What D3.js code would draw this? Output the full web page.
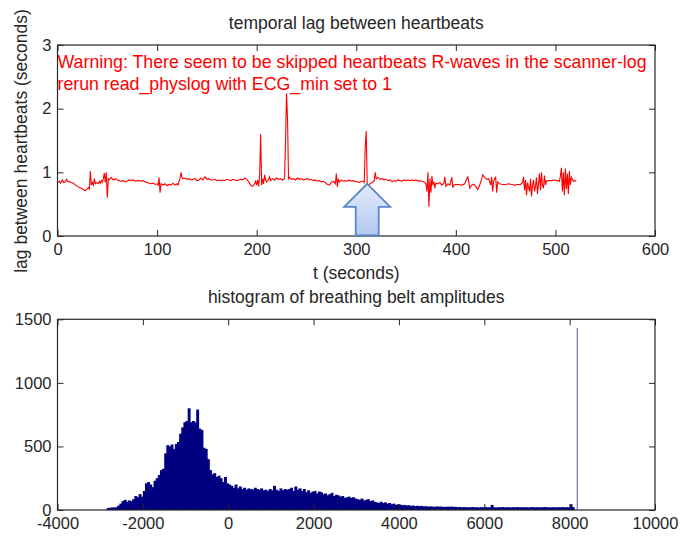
<!DOCTYPE html>
<html>
<head>
<meta charset="utf-8">
<script src="https://cdn.jsdelivr.net/npm/d3@7/dist/d3.min.js"></script>
<style>
  body { margin: 0; background: #fff; }
  svg { font-family: "Liberation Sans", Arial, sans-serif; }
  .tick text { fill: #262626; }
</style>
</head>
<body>
<div id="chart"></div>
<script>
// heartbeat lag trace (seconds vs seconds)
var beatTime = [0,2,3,5,6,8,9,10,12,14,16,18,20,22,24,26,28,29,31,32,33,34,35,36,37,38,39,41,42,43,44,45,46,47,48,49,50,51,52,54,56,58,60,62,64,66,68,70,72,74,76,78,80,82,84,86,88,90,92,94,96,98,100,101,102,103,104,106,108,110,112,114,116,118,120,121,122,123,124,125,126,128,130,132,134,136,138,140,142,144,146,148,150,152,154,156,158,160,162,164,166,168,170,172,174,176,178,180,182,184,186,188,190,192,194,196,198,199,200,201,202,203,204,205,206,207,208,209,210,212,213,214,216,218,220,222,224,226,228,229,230,231,232,233,235,237,239,241,243,245,247,249,251,253,255,257,259,261,263,265,267,269,271,273,275,277,279,280,281,282,283,285,287,289,291,293,295,297,299,301,303,305,307,308,309,310,311,312,314,316,318,319,320,322,324,326,328,330,332,334,336,338,340,342,344,346,348,350,352,354,356,358,360,362,364,366,368,370,371,372,373,374,375,376,377,378,379,380,382,384,386,388,389,390,392,394,395,396,397,398,400,403,406,409,411,412,413,414,416,418,420,422,424,426,427,429,431,433,435,436,437,438,440,441,442,444,447,450,453,456,459,462,465,467,468,469,470,471,472,474,475,476,477,478,479,480,481,482,483,484,485,486,487,488,489,490,491,493,496,499,502,504,505,506,507,508,509,510,511,512,513,514,515,516,518,520,521];
var beatLag = [0.84,0.86,0.83,0.88,0.84,0.85,0.89,0.86,0.85,0.84,0.83,0.80,0.78,0.76,0.75,0.73,0.71,0.73,0.76,0.74,1.02,0.80,0.84,0.80,0.90,0.82,0.84,0.82,0.86,0.83,0.87,0.84,0.90,0.99,0.84,1.00,0.60,0.90,0.88,0.92,0.88,0.90,0.88,0.87,0.86,0.87,0.85,0.86,0.88,0.87,0.88,0.86,0.87,0.87,0.86,0.87,0.85,0.84,0.83,0.82,0.83,0.81,0.82,0.80,0.92,0.68,0.82,0.80,0.82,0.79,0.81,0.80,0.83,0.80,0.82,0.80,0.86,0.90,1.00,0.92,0.90,0.91,0.89,0.90,0.88,0.89,0.90,0.87,0.88,0.91,0.88,0.93,0.89,0.90,0.88,0.88,0.89,0.87,0.88,0.87,0.88,0.87,0.89,0.88,0.87,0.89,0.88,0.87,0.88,0.89,0.88,0.91,0.89,0.85,0.80,0.78,0.82,0.86,0.80,0.88,0.78,0.95,1.60,0.80,0.90,0.82,0.96,0.88,0.85,0.89,0.93,0.87,0.90,0.88,0.91,0.89,0.90,0.88,0.90,1.50,2.24,1.84,0.90,0.92,0.89,0.90,0.88,0.91,0.89,0.90,0.88,0.89,0.90,0.88,0.89,0.87,0.88,0.86,0.87,0.85,0.86,0.84,0.81,0.80,0.84,0.86,0.82,0.98,0.77,0.90,0.85,0.88,0.86,0.87,0.86,0.88,0.86,0.87,0.86,0.85,0.84,0.86,0.86,0.84,1.40,1.65,0.82,0.80,0.82,0.84,0.86,1.00,0.90,0.92,0.89,0.90,0.88,0.89,0.87,0.88,0.85,0.87,0.86,0.88,0.87,0.86,0.88,0.87,0.88,0.87,0.88,0.87,0.88,0.86,0.87,0.86,0.85,0.82,0.70,1.00,0.46,0.90,0.68,0.94,0.80,0.85,0.75,0.83,0.82,0.84,0.80,0.83,0.93,0.78,0.82,0.80,0.86,0.92,0.76,0.80,0.81,0.81,0.80,0.82,0.90,0.93,0.85,0.75,0.80,0.81,0.78,0.73,0.80,0.90,0.96,0.92,0.89,0.90,0.80,0.93,0.70,0.86,0.93,0.68,0.85,0.82,0.81,0.81,0.82,0.81,0.80,0.81,0.81,0.84,0.93,0.72,0.88,0.64,0.84,0.70,0.90,0.62,0.80,0.88,0.70,0.78,0.92,0.66,0.82,0.98,0.72,1.00,0.80,0.75,0.95,0.80,0.86,0.87,0.87,0.88,0.87,0.86,0.94,1.07,0.70,1.00,0.64,1.06,0.74,0.98,0.66,1.02,0.80,0.92,0.86,0.87,0.87];

// histogram of breathing belt amplitudes: counts per 50-unit bin starting at -2850
var binStart = -2850;
var binWidth = 50;
var binCounts = [
  15,18,20,20,22, 35,50,70, 80,65,75,70,85, 110,100,125,105, 150,210,220,
  200,180,230,250, 275,314,325, 445,510, 500,515,480,520, 535,600,650,
  690,700,800, 690,700,690,790, 640,630,490,480,400, 314,280,
  290,260,270,250, 220,260, 210,200,190,175, 200,170,185,165,175,160,
  170,165,160,175,165,160,170,155,
  160,150,165,155,190,160,150,170,155,165,160,
  165,175,150,185,160,170,150,165,
  140,155,135,145,150,130,145,140,
  125,130,115,125,135,110,120,115,
  105,110,95,100,105,95,100,90,
  85,80,90,75,80,85,70,75,
  65,60,55,65,55,60,50,55,
  45,50,40,45,42,38,40,
  35,38,32,35,30,33,30,32,
  28,30,26,28,27,25,28,26,27,25,24,26,25,27,24,25,
  22,24,21,23,22,20,22,23,21,22,20,22,21,23,20,22,40,21,20,22,21,23,20,22,21,20,22,21,23,20,22,21,
  22,20,21,23,20,22,21,20,22,23,21,20,22,21,20,22,21,23,20,22,21,45,22
];
var spikeValue = 8165;
var spikeCount = 1430;

var lagTicks = [0, 1, 2, 3];
var timeTicks = [0, 100, 200, 300, 400, 500, 600];
var countTicks = [0, 500, 1000, 1500];
var ampTicks = [-4000, -2000, 0, 2000, 4000, 6000, 8000, 10000];

var warningLines = ["Warning: There seem to be skipped heartbeats R-waves in the scanner-log",
                    "rerun read_physlog with ECG_min set to 1"];

var w = 695, h = 536;
var left = 57.5, right = 655;
var axisColor = "#262626";
var plain = function(d) { return String(d); };

var svg = d3.select("#chart").append("svg")
    .attr("width", w)
    .attr("height", h);

// gradient for the arrow
var grad = svg.append("defs").append("linearGradient")
    .attr("id", "arrowFill")
    .attr("x1", 0).attr("y1", 0).attr("x2", 0).attr("y2", 1);
grad.append("stop").attr("offset", "0%").attr("stop-color", "#e3ecfd");
grad.append("stop").attr("offset", "100%").attr("stop-color", "#b3c8f0");

// draws a matlab style box with ticks pointing inwards
function drawBox(g, x, y, xt, yt, top, bottom) {
  g.append("g")
    .attr("transform", "translate(0," + bottom + ")")
    .call(d3.axisBottom(x).tickValues(xt).tickSize(-6).tickSizeOuter(0).tickPadding(7).tickFormat(plain))
    .call(function(a) { a.select(".domain").remove(); });
  g.append("g")
    .attr("transform", "translate(0," + top + ")")
    .call(d3.axisTop(x).tickValues(xt).tickSize(-6).tickSizeOuter(0).tickFormat(""))
    .call(function(a) { a.select(".domain").remove(); });
  g.append("g")
    .attr("transform", "translate(" + left + ",0)")
    .call(d3.axisLeft(y).tickValues(yt).tickSize(-6).tickSizeOuter(0).tickPadding(6).tickFormat(plain))
    .call(function(a) { a.select(".domain").remove(); });
  g.append("g")
    .attr("transform", "translate(" + right + ",0)")
    .call(d3.axisRight(y).tickValues(yt).tickSize(-6).tickSizeOuter(0).tickFormat(""))
    .call(function(a) { a.select(".domain").remove(); });
  g.selectAll(".tick line").attr("stroke", axisColor);
  g.selectAll(".tick text").style("font-size", "16.5px");
  g.append("rect")
    .attr("x", left).attr("y", top)
    .attr("width", right - left).attr("height", bottom - top)
    .attr("fill", "none")
    .attr("stroke", axisColor)
    .attr("stroke-width", 1.2);
}

// ---------- top plot ----------
var topY0 = 45, topY1 = 236;
var x1 = d3.scaleLinear().domain([0, 600]).range([left, right]);
var y1 = d3.scaleLinear().domain([0, 3]).range([topY1, topY0]);

var g1 = svg.append("g");

var beats = beatTime.map(function(t, i) { return [t, beatLag[i]]; });
var lagLine = d3.line()
    .x(function(d) { return x1(d[0]); })
    .y(function(d) { return y1(d[1]); });

g1.append("path")
    .datum(beats)
    .attr("fill", "none")
    .attr("stroke", "#ff0000")
    .attr("stroke-width", 1.1)
    .attr("d", lagLine);

drawBox(g1, x1, y1, timeTicks, lagTicks, topY0, topY1);

g1.append("text")
    .attr("x", (left + right) / 2).attr("y", 29)
    .attr("text-anchor", "middle")
    .attr("fill", "#262626")
    .style("font-size", "17.5px")
    .text("temporal lag between heartbeats");

g1.append("text")
    .attr("x", (left + right) / 2).attr("y", 279)
    .attr("text-anchor", "middle")
    .attr("fill", "#262626")
    .style("font-size", "17.5px")
    .text("t (seconds)");

g1.append("text")
    .attr("transform", "translate(27,141) rotate(-90)")
    .attr("text-anchor", "middle")
    .attr("fill", "#262626")
    .style("font-size", "17.5px")
    .text("lag between heartbeats (seconds)");

g1.selectAll(".warn")
    .data(warningLines)
    .enter().append("text")
    .attr("class", "warn")
    .attr("x", left)
    .attr("y", function(d, i) { return 68 + i * 22; })
    .attr("fill", "#ff0000")
    .style("font-size", "17.75px")
    .text(function(d) { return d; });

// block arrow pointing at the skipped beat near t = 311 s
var ax = x1(311), ay = y1(0.82);
var arrow = d3.path();
arrow.moveTo(ax, ay);
arrow.lineTo(ax + 23, ay + 23);
arrow.lineTo(ax + 11.5, ay + 23);
arrow.lineTo(ax + 11.5, topY1 - 0.5);
arrow.lineTo(ax - 11.5, topY1 - 0.5);
arrow.lineTo(ax - 11.5, ay + 23);
arrow.lineTo(ax - 23, ay + 23);
arrow.closePath();
g1.append("path")
    .attr("d", arrow.toString())
    .attr("fill", "url(#arrowFill)")
    .attr("stroke", "#5a86c4")
    .attr("stroke-width", 1.8)
    .attr("stroke-linejoin", "miter");

// ---------- bottom plot ----------
var botY0 = 319.3, botY1 = 510;
var x2 = d3.scaleLinear().domain([-4000, 10000]).range([left, right]);
var y2 = d3.scaleLinear().domain([0, 1500]).range([botY1, botY0]);

var g2 = svg.append("g");
var barW = x2(binWidth) - x2(0);

g2.selectAll(".bar")
    .data(binCounts)
    .enter().append("rect")
    .attr("class", "bar")
    .attr("x", function(d, i) { return x2(binStart + i * binWidth); })
    .attr("y", function(d) { return y2(d); })
    .attr("width", barW + 0.8)
    .attr("height", function(d) { return botY1 - y2(d); })
    .attr("fill", "#000080");

g2.append("rect")
    .attr("x", x2(spikeValue))
    .attr("y", y2(spikeCount))
    .attr("width", 1.2)
    .attr("height", botY1 - y2(spikeCount))
    .attr("fill", "#000080")
    .attr("fill-opacity", 0.55);

drawBox(g2, x2, y2, ampTicks, countTicks, botY0, botY1);

g2.append("text")
    .attr("x", (left + right) / 2).attr("y", 302.5)
    .attr("text-anchor", "middle")
    .attr("fill", "#262626")
    .style("font-size", "17.5px")
    .text("histogram of breathing belt amplitudes");
</script>
</body>
</html>
